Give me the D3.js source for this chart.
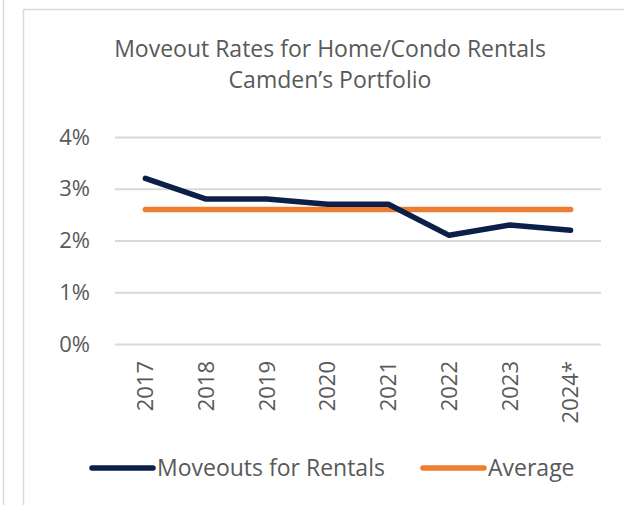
<!DOCTYPE html>
<html>
<head>
<meta charset="utf-8">
<script src="https://cdn.jsdelivr.net/npm/d3@7"></script>
<style>
  body { margin: 0; background: #fff; }
  svg { display: block; }
  text { font-family: "Open Sans", sans-serif; fill: #595959; }
</style>
</head>
<body>
<script>
// data
var years = ["2017", "2018", "2019", "2020", "2021", "2022", "2023", "2024*"];
var moveouts = [3.2, 2.8, 2.8, 2.7, 2.7, 2.1, 2.3, 2.2];
var average = [2.6, 2.6, 2.6, 2.6, 2.6, 2.6, 2.6, 2.6];
var yTicks = [0, 1, 2, 3, 4];
var titleLines = ["Moveout Rates for Home/Condo Rentals", "Camden\u2019s Portfolio"];
var seriesNames = ["Moveouts for Rentals", "Average"];
var seriesColors = ["#0b1f48", "#ed7d31"];

var W = 624, H = 505;
var margin = { top: 137, right: 23, bottom: 161, left: 115 };
var width = W - margin.left - margin.right,
    height = H - margin.top - margin.bottom;

var svg = d3.select("body").append("svg")
    .attr("width", W)
    .attr("height", H);

// outer frame bits
svg.append("line")
    .attr("x1", 3.5).attr("x2", 3.5).attr("y1", 0).attr("y2", H)
    .attr("stroke", "#d9d9d9").attr("stroke-width", 1.5);
svg.append("rect")
    .attr("x", 23.5).attr("y", 9.5)
    .attr("width", W).attr("height", H)
    .attr("fill", "none")
    .attr("stroke", "#d9d9d9").attr("stroke-width", 1.5);

// title
svg.append("g").selectAll("text")
    .data(titleLines)
    .enter().append("text")
    .attr("x", 330)
    .attr("y", function (d, i) { return 57 + i * 31; })
    .attr("text-anchor", "middle")
    .style("font-size", "23px")
    .text(function (d) { return d; });

var g = svg.append("g")
    .attr("transform", "translate(" + margin.left + "," + margin.top + ")");

var x = d3.scaleBand().domain(years).range([0, width]);
var y = d3.scaleLinear().domain([0, 4]).range([height, 0]);

// gridlines + y labels
var yAxis = g.append("g")
    .call(d3.axisLeft(y).tickValues(yTicks).tickSize(-width)
        .tickFormat(function (d) { return d + "%"; }));
yAxis.select(".domain").remove();
yAxis.selectAll(".tick line").attr("stroke", "#d9d9d9").attr("stroke-width", 2);
yAxis.selectAll(".tick text")
    .attr("x", -25)
    .style("font-size", "22px")
    .style("font-family", "Open Sans, sans-serif")
    .attr("fill", "#595959");

// x labels, rotated
var xAxis = g.append("g")
    .attr("transform", "translate(0," + height + ")")
    .call(d3.axisBottom(x).tickSize(0));
xAxis.select(".domain").remove();
xAxis.selectAll(".tick text")
    .attr("transform", "rotate(-90)")
    .attr("text-anchor", "end")
    .attr("x", -17)
    .attr("y", 0)
    .attr("dy", "0.35em")
    .style("font-size", "22px")
    .style("font-family", "Open Sans, sans-serif")
    .attr("fill", "#595959");

var line = d3.line()
    .x(function (d, i) { return x(years[i]) + x.bandwidth() / 2; })
    .y(function (d) { return y(d); });

// average drawn first, moveouts on top
[average, moveouts].forEach(function (s, k) {
    g.append("path")
        .datum(s)
        .attr("d", line)
        .attr("fill", "none")
        .attr("stroke", seriesColors[1 - k])
        .attr("stroke-width", 5.5)
        .attr("stroke-linecap", "round")
        .attr("stroke-linejoin", "round");
});

// legend
var legendX = [92, 423];
var leg = svg.append("g").selectAll("g")
    .data(seriesNames)
    .enter().append("g")
    .attr("transform", function (d, i) { return "translate(" + legendX[i] + ",468)"; });
leg.append("line")
    .attr("x1", 0).attr("x2", 61)
    .attr("stroke", function (d, i) { return seriesColors[i]; })
    .attr("stroke-width", 5.5)
    .attr("stroke-linecap", "round");
leg.append("text")
    .attr("x", 65)
    .attr("dy", "0.35em")
    .style("font-size", "23px")
    .text(function (d) { return d; });
</script>
</body>
</html>
